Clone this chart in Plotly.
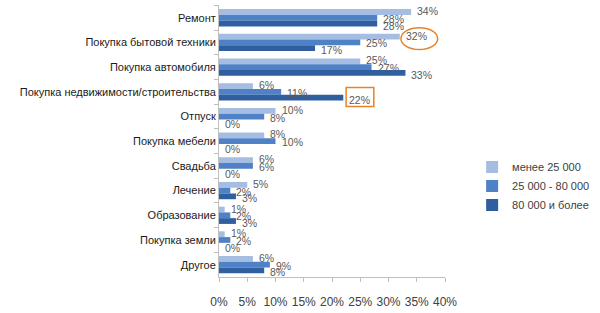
import plotly.graph_objects as go

categories = ["Ремонт", "Покупка бытовой техники", "Покупка автомобиля",
              "Покупка недвижимости/строительства", "Отпуск", "Покупка мебели",
              "Свадьба", "Лечение", "Образование", "Покупка земли", "Другое"]
series_names = ["менее 25 000", "25 000 - 80 000", "80 000 и более"]
low = [34, 32, 25, 6, 10, 8, 6, 5, 1, 1, 6]
mid = [28, 25, 27, 11, 8, 10, 6, 2, 2, 2, 9]
high = [28, 17, 33, 22, 0, 0, 0, 3, 3, 0, 8]
x_ticks = [0, 5, 10, 15, 20, 25, 30, 35, 40]
colors = ["#a6bde3", "#4f81c7", "#2f5f9f"]

bargap = 0.3
fig = go.Figure()
all_series = [low, mid, high]
for i, (name, vals) in enumerate(zip(series_names, all_series)):
    fig.add_trace(go.Bar(
        y=categories, x=vals, name=name, orientation="h",
        marker=dict(color=colors[i], line=dict(width=0)),
        cliponaxis=False, legendgroup=f"g{i}",
    ))

# data labels placed next to each bar end (through the axes)
bw = (1 - bargap) / 3
yshifts = [1, -1, -2]
for i, vals in enumerate(all_series):
    off = (i - 1) * bw
    for j, v in enumerate(vals):
        fig.add_annotation(x=v, y=j + off, xref="x", yref="y", text=f"{v}%",
                           showarrow=False, xanchor="left", yanchor="middle",
                           xshift=4, yshift=yshifts[i],
                           font=dict(family="Liberation Sans", size=10.5, color="#595959"))

fig.update_layout(
    width=600, height=313,
    margin=dict(l=219, r=134, t=5, b=36),
    paper_bgcolor="white", plot_bgcolor="white",
    barmode="group", bargap=bargap, bargroupgap=0,
    font=dict(family="Liberation Sans", size=11, color="#333333"),
    legend=dict(x=1.12, xanchor="left", y=0.335, yanchor="middle",
                traceorder="normal", tracegroupgap=10,
                font=dict(size=11, color="#404040")),
    xaxis=dict(range=[0, 40], tickvals=x_ticks,
               ticktext=[f"{t}%" for t in x_ticks],
               showgrid=False, zeroline=False, showline=True,
               linecolor="#bfbfbf", ticks="outside", ticklen=4,
               tickcolor="#bfbfbf", ticklabelstandoff=10,
               tickfont=dict(size=12, color="#404040")),
    yaxis=dict(autorange="reversed", showgrid=False, showline=True,
               linecolor="#bfbfbf", ticks="outside", ticklen=4,
               tickcolor="#bfbfbf", tickson="boundaries",
               tickfont=dict(size=11, color="#1a1a1a")),
)

fig.add_shape(type="circle", xref="x", yref="y", x0=32.2, x1=38.7, y0=0.40, y1=1.29,
              line=dict(color="#e8832a", width=1.5))
fig.add_shape(type="rect", xref="x", yref="y", x0=22.5, x1=27.4, y0=2.82, y1=3.59,
              line=dict(color="#e8832a", width=1.5))

fig.write_html("out.html")
